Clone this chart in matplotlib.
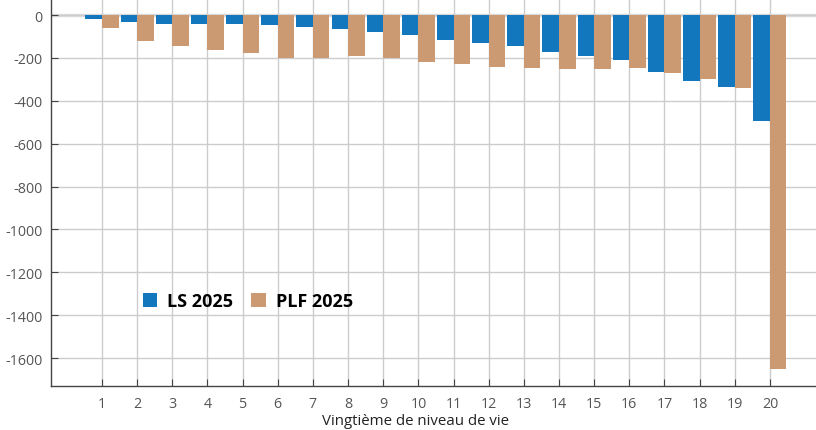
import matplotlib
matplotlib.use("Agg")
import matplotlib.pyplot as plt
import numpy as np

categories = [str(i) for i in range(1, 21)]
ls_2025 = [-19, -34, -40, -40, -40, -48, -57, -65, -80, -91, -115, -128, -146, -171,
           -190, -209, -265, -307, -335, -493]
plf_2025 = [-62, -122, -146, -163, -178, -202, -198, -192, -202, -217, -228, -242, -246,
            -250, -250, -246, -270, -298, -340, -1651]
yticks = [0, -200, -400, -600, -800, -1000, -1200, -1400, -1600]

plt.rcParams['font.family'] = ['Open Sans', 'DejaVu Sans']

fig = plt.figure(figsize=(8.16, 4.31), dpi=100)
ax = fig.add_axes([51/816, 44/431, 765/816, 387/431])

x = np.arange(1, len(categories) + 1)
w = 0.47
blue = '#1277bd'
tan = '#cc9a72'
ax.bar(x - w/2, ls_2025, width=w, color=blue, label='LS 2025', zorder=3)
ax.bar(x + w/2, plf_2025, width=w, color=tan, label='PLF 2025', zorder=3)

ax.set_xlim(-0.45, 21.31)
ax.set_ylim(-1730, 75)
ax.set_xticks(x)
ax.set_xticklabels(categories)
ax.set_yticks(yticks)
ax.set_yticklabels([str(v) for v in yticks])

ax.grid(True, color='#cccccc', linewidth=1, zorder=0)
ax.axhline(0, color='#dddddd', linewidth=2.5, zorder=1)

for s in ['top', 'right']:
    ax.spines[s].set_visible(False)
for s in ['left', 'bottom']:
    ax.spines[s].set_color('#444444')
    ax.spines[s].set_linewidth(1)

ax.tick_params(axis='both', direction='in', length=5, color='#444444',
               labelcolor='#555555', labelsize=10.3)
ax.tick_params(axis='x', pad=7)
ax.tick_params(axis='y', pad=6)

ax.set_xlabel('Vingtième de niveau de vie', fontsize=10.8, color='#222222')
ax.xaxis.set_label_coords(0.476, -0.07)

leg = ax.legend(loc='center', bbox_to_anchor=((248 - 51) / 765, 1 - 302 / 387),
                ncol=2, frameon=False, handlelength=0.8, handleheight=0.8,
                handletextpad=0.55, columnspacing=1.0,
                prop={'weight': 'bold', 'size': 13})

fig.savefig('out.png', dpi=100)
